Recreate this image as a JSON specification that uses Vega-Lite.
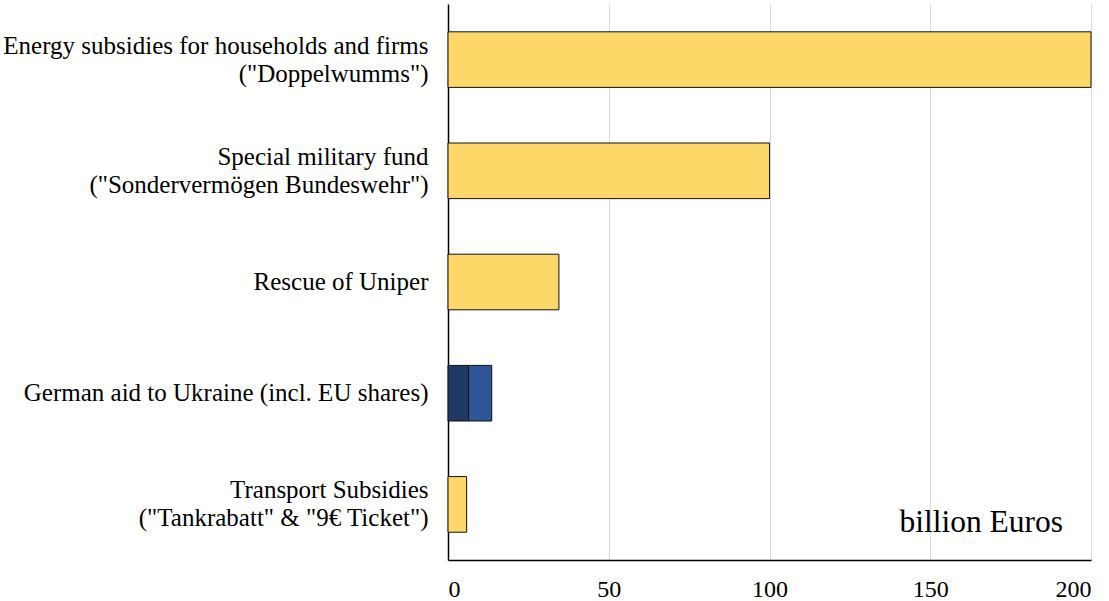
{
  "$schema": "https://vega.github.io/schema/vega-lite/v6.json",
  "width": 643,
  "height": 556,
  "autosize": {"type": "none"},
  "padding": {"left": 448, "top": 4, "right": 18, "bottom": 41},
  "background": "white",
  "config": {
    "font": "Liberation Serif",
    "view": {"stroke": null}
  },
  "data": {
    "values": [
      {"item": "Energy subsidies for households and firms|(\"Doppelwumms\")", "part": "main", "ord": 1, "value": 200},
      {"item": "Special military fund|(\"Sondervermögen Bundeswehr\")", "part": "main", "ord": 1, "value": 100},
      {"item": "Rescue of Uniper", "part": "main", "ord": 1, "value": 34.5},
      {"item": "German aid to Ukraine (incl. EU shares)", "part": "ukraine_a", "ord": 1, "value": 6.4},
      {"item": "German aid to Ukraine (incl. EU shares)", "part": "ukraine_b", "ord": 2, "value": 7.2},
      {"item": "Transport Subsidies|(\"Tankrabatt\" & \"9€ Ticket\")", "part": "main", "ord": 1, "value": 5.8}
    ]
  },
  "layer": [
    {
      "mark": {"type": "bar", "stroke": "#111111", "strokeWidth": 1},
      "encoding": {
        "y": {
          "field": "item",
          "type": "nominal",
          "sort": null,
          "scale": {"paddingInner": 0.5, "paddingOuter": 0.25},
          "axis": {
            "title": null,
            "labelExpr": "split(datum.label, '|')",
            "labelFont": "Liberation Serif",
            "labelFontSize": 25,
            "labelColor": "#000000",
            "labelLineHeight": 28,
            "labelPadding": 20,
            "labelLimit": 0,
            "labelOffset": {"condition": {"test": "indexof(datum.value, '|') >= 0", "value": -14}, "value": 0},
            "ticks": false,
            "domainColor": "#000000",
            "domainWidth": 1.5,
            "grid": false
          }
        },
        "x": {
          "field": "value",
          "type": "quantitative",
          "stack": "zero",
          "scale": {"domain": [0, 200], "nice": false},
          "axis": {
            "title": null,
            "values": [0, 50, 100, 150, 200],
            "labelFont": "Liberation Serif",
            "labelFontSize": 24,
            "labelColor": "#000000",
            "labelPadding": 17,
            "ticks": false,
            "domainColor": "#000000",
            "domainWidth": 1.5,
            "grid": true,
            "gridColor": "#d9d9d9",
            "gridWidth": 1
          }
        },
        "color": {
          "field": "part",
          "type": "nominal",
          "scale": {"domain": ["main", "ukraine_a", "ukraine_b"], "range": ["#FDD869", "#203864", "#2E5597"]},
          "legend": null
        },
        "order": {"field": "ord", "type": "quantitative"}
      }
    },
    {
      "data": {"values": [{"label": "billion Euros", "xv": 200, "item": "Transport Subsidies|(\"Tankrabatt\" & \"9€ Ticket\")"}]},
      "mark": {"type": "text", "align": "right", "baseline": "middle", "dx": -28, "dy": 19, "fontSize": 31.5, "font": "Liberation Serif", "color": "#000000"},
      "encoding": {
        "x": {"field": "xv", "type": "quantitative"},
        "y": {"field": "item", "type": "nominal", "sort": null},
        "text": {"field": "label"}
      }
    }
  ]
}
